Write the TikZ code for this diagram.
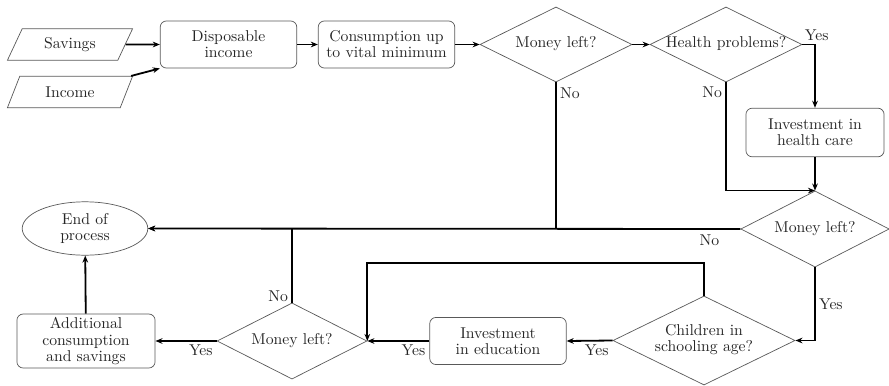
\documentclass[tikz,border=0pt]{standalone}
\usetikzlibrary{shapes.geometric,arrows.meta}
% text of a decision: zero width, so the diamond size comes from the style alone
\newcommand{\dtxt}[1]{\makebox[0pt]{\begin{tabular}{@{}c@{}}#1\end{tabular}}}
\begin{document}
\begin{tikzpicture}[
  x=0.637pt, y=-0.637pt,
  font=\fontsize{10}{10.2}\selectfont,
  every node/.style={text=black!85},
  box/.style={draw=black!65, line width=0.45pt, rounded corners=4pt, align=center,
    minimum width=87pt, minimum height=30pt, inner sep=1pt},
  io/.style={trapezium, trapezium left angle=61, trapezium right angle=119,
    trapezium stretches=true, draw=black!65, line width=0.45pt,
    minimum width=80pt, minimum height=20pt, inner sep=0pt},
  dec/.style={diamond, draw=black!65, line width=0.45pt, inner sep=0pt,
    minimum width=96.8pt, minimum height=47.8pt},
  term/.style={ellipse, draw=black!65, line width=0.45pt, align=center,
    minimum width=80pt, minimum height=34pt, inner sep=0pt},
  ln/.style={line width=1.15pt},
  arr/.style={line width=1.15pt, -{Stealth[length=4.5pt,width=3.6pt]}},
  lbl/.style={inner sep=2pt}
]
\useasboundingbox (0,0) rectangle (889,386);

% inputs
\node[io] (sav) at (70,44.5) {Savings};
\node[io] (inc) at (70,92) {Income};

% top row
\node[box] (disp) at (228.5,44.5) {Disposable\\income};
\node[box] (cons) at (386.5,44.5) {Consumption up\\to vital minimum};
\node[dec] (m1) at (556,44.5) {\dtxt{Money left?}};
\node[dec] (hp) at (726,44.5) {\dtxt{Health problems?}};

% right column
\node[box, minimum width=88pt, minimum height=31pt] (hc) at (815,132.5) {Investment in\\health care};
\node[dec, minimum width=94.5pt, minimum height=48.5pt] (m2) at (815,229) {\dtxt{Money left?}};

% bottom row
\node[dec, minimum width=116pt, minimum height=56.7pt] (ch) at (704,340.5) {\dtxt{Children in\\schooling age?}};
\node[box] (edu) at (498,341) {Investment\\in education};
\node[dec, minimum width=95.5pt, minimum height=48.5pt] (m3) at (292,341) {\dtxt{Money left?}};
\node[box, minimum width=88pt, minimum height=34.4pt] (add) at (86,341) {Additional\\consumption\\and savings};
\node[term] (end) at (85,228.5) {End of\\process};

% connectors
\draw[arr] (sav) -- (disp);
\draw[arr] (inc) -- (disp.south west);
\draw[arr] (disp) -- (cons);
\draw[arr] (cons) -- (m1);
\draw[arr] (m1) -- (hp);

\draw[arr] (hp.east) node[lbl, above right, inner sep=1pt, yshift=1pt] {Yes} -| (hc.north);
\draw[arr] (hp.south) node[lbl, below left] {No} |- (m2.north);
\draw[arr] (hc) -- (m2);

\draw[arr] (m1.south) node[lbl, below right, yshift=-1pt] {No} |- (end.east);
\draw[arr] (m2.west) node[lbl, below left, xshift=-11pt, yshift=-1pt] {No} -- (end.east);

\draw[arr] (m2.south) -- node[lbl, right, pos=0.5] {Yes} (m2.south |- ch.east) -- (ch.east);
\draw[arr] (ch.west) node[lbl, below left] {Yes} -- (edu.east);
\draw[arr] (edu.west) node[lbl, below left] {Yes} -- (m3.east);
\draw[arr] (m3.west) node[lbl, below left] {Yes} -- (add.east);
\draw[arr] (add) -- (end);

\draw[ln] (m3.north) node[lbl, above left, yshift=-2pt] {No} -- (m3.north |- end.east);
\draw[arr] (ch.north) -- ++(0,-33) -| (m3.east);
\end{tikzpicture}
\end{document}
